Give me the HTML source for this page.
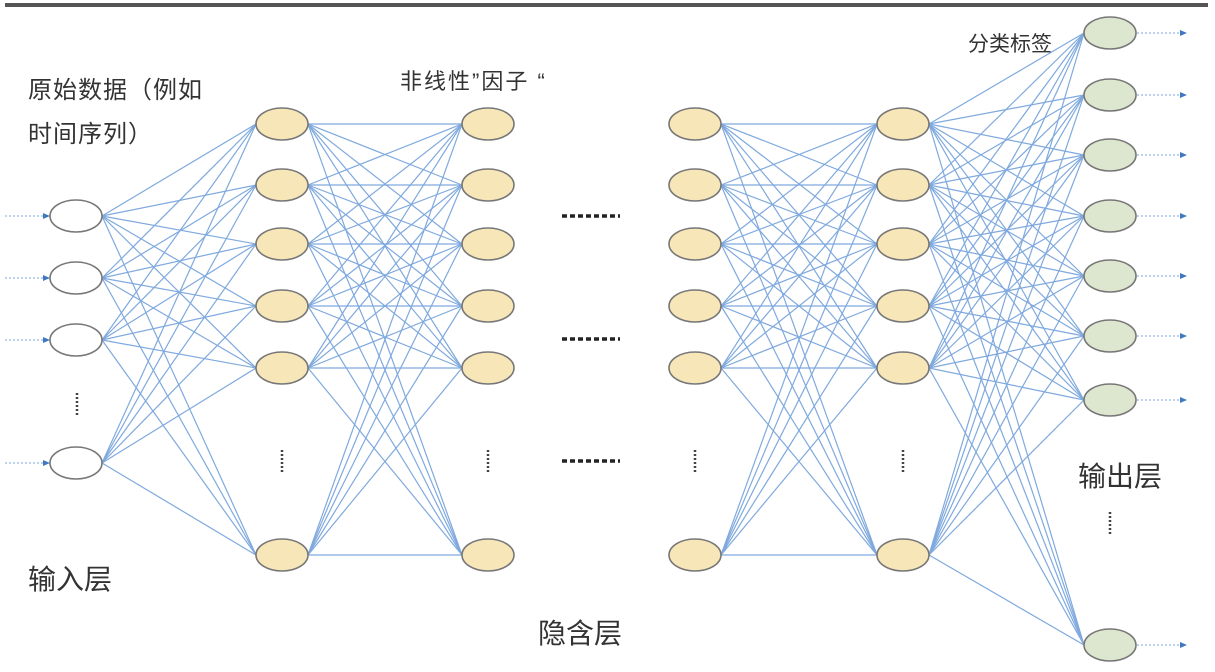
<!DOCTYPE html>
<html><head><meta charset="utf-8"><style>
html,body{margin:0;padding:0;background:#fff;}
body{width:1215px;height:672px;position:relative;overflow:hidden;font-family:"Liberation Sans","Noto Sans CJK SC",sans-serif;}
.t{position:absolute;color:#333;white-space:nowrap;}
svg{position:absolute;left:0;top:0;}
</style></head><body>
<svg id="s" width="1215" height="672" xmlns="http://www.w3.org/2000/svg"></svg>
<div class="t" style="left:28px;top:70px;font-size:24px;letter-spacing:1px;">原始数据（例如</div>
<div class="t" style="left:28px;top:114px;font-size:24px;letter-spacing:1px;">时间序列）</div>
<div class="t" style="left:400px;top:64px;font-size:22px;letter-spacing:2px;">非线性”因子 “</div>
<div class="t" style="left:968px;top:28px;font-size:21px;">分类标签</div>
<div class="t" style="left:28px;top:558px;font-size:28px;">输入层</div>
<div class="t" style="left:538px;top:612px;font-size:28px;">隐含层</div>
<div class="t" style="left:1078px;top:455px;font-size:28px;">输出层</div>
<script>
const s=document.getElementById('s');
let h='<rect x="5" y="3" width="1203" height="4" fill="#555"/>';
const inp={x:76,ys:[216,278,340,463]};
const hy=[124,185,244,306,368,555];
const L=[{x:282,ys:hy},{x:488,ys:hy},{x:695,ys:hy},{x:903,ys:hy}];
const out={x:1110,ys:[33,95,155,216,276,336,400,645]};
function conn(a,b){for(const y1 of a.ys)for(const y2 of b.ys)h+=`<line x1="${a.x+26}" y1="${y1}" x2="${b.x-26}" y2="${y2}" stroke="#7fa9de" stroke-width="1.2"/>`;}
conn(inp,L[0]);conn(L[0],L[1]);conn(L[2],L[3]);conn(L[3],out);
function nodes(l,fill){for(const y of l.ys)h+=`<ellipse cx="${l.x}" cy="${y}" rx="26" ry="16" fill="${fill}" stroke="#777" stroke-width="1.6"/>`;}
nodes(inp,'#fff');L.forEach(l=>nodes(l,'#f7e6b8'));nodes(out,'#dde6cf');
for(const y of inp.ys){h+=`<line x1="5" y1="${y}" x2="44" y2="${y}" stroke="#7aa6dc" stroke-dasharray="2,2"/><polygon points="50,${y} 43,${y-3} 43,${y+3}" fill="#3f78c0"/>`;}
for(const y of out.ys){h+=`<line x1="1137" y1="${y}" x2="1180" y2="${y}" stroke="#7aa6dc" stroke-dasharray="2,2"/><polygon points="1187,${y} 1180,${y-3} 1180,${y+3}" fill="#3f78c0"/>`;}
function vd(x,y){h+=`<line x1="${x}" y1="${y}" x2="${x}" y2="${y+24}" stroke="#444" stroke-width="2.5" stroke-dasharray="2,2"/>`;}
vd(77,393);L.forEach(l=>vd(l.x,450));vd(1110,512);
for(const y of [216,339,461])h+=`<line x1="562" y1="${y}" x2="620" y2="${y}" stroke="#222" stroke-width="3.5" stroke-dasharray="5,3"/>`;
s.innerHTML=h;
</script>
</body></html>
